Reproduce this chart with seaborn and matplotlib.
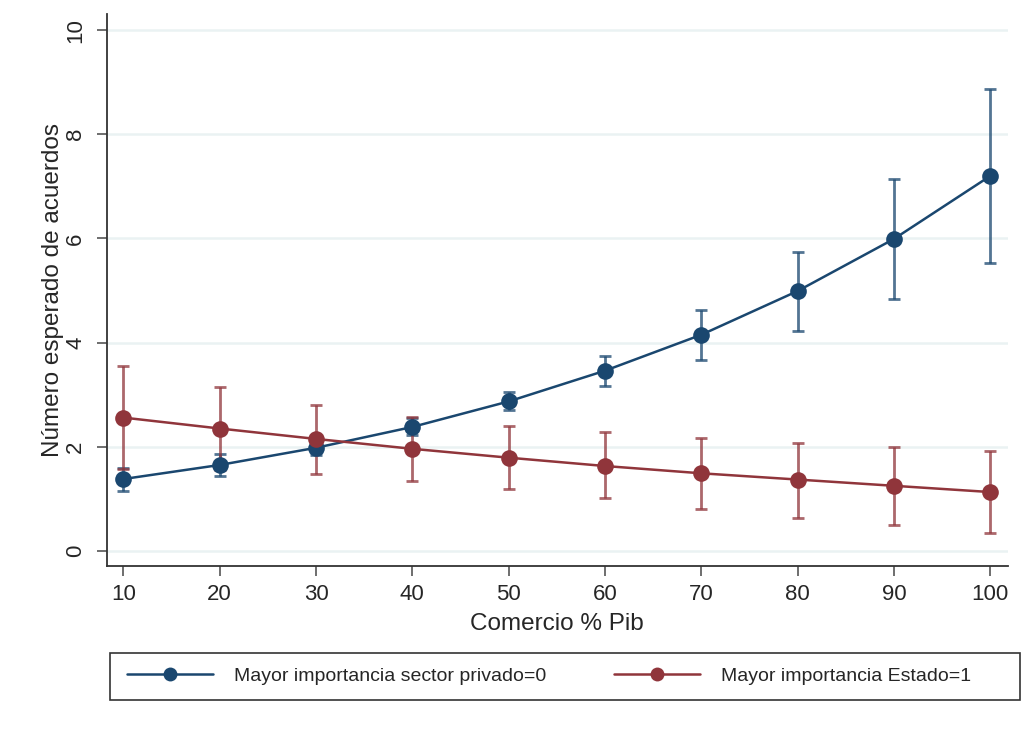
import numpy as np
import pandas as pd
import matplotlib
matplotlib.use("Agg")
import matplotlib.pyplot as plt
from matplotlib.patches import Rectangle
import seaborn as sns

sns.set_style("white")
plt.rcParams['font.family'] = ['Liberation Sans', 'DejaVu Sans']

# Data
comercio = [10, 20, 30, 40, 50, 60, 70, 80, 90, 100]

privado = [1.38, 1.65, 1.98, 2.38, 2.87, 3.46, 4.15, 4.99, 5.99, 7.20]
privado_lo = [1.15, 1.44, 1.84, 2.22, 2.71, 3.17, 3.67, 4.23, 4.83, 5.53]
privado_hi = [1.60, 1.86, 2.12, 2.56, 3.05, 3.74, 4.63, 5.74, 7.14, 8.87]

estado = [2.56, 2.35, 2.15, 1.96, 1.79, 1.63, 1.49, 1.37, 1.25, 1.13]
estado_lo = [1.58, 1.56, 1.47, 1.35, 1.19, 1.01, 0.81, 0.64, 0.49, 0.34]
estado_hi = [3.56, 3.14, 2.81, 2.57, 2.40, 2.28, 2.17, 2.08, 1.99, 1.92]

lab_priv = "Mayor importancia sector privado=0"
lab_est = "Mayor importancia Estado=1"

blue = "#1a476f"
red = "#90353b"

df = pd.DataFrame({
    'Comercio': comercio * 2,
    'Acuerdos': privado + estado,
    'lo': privado_lo + estado_lo,
    'hi': privado_hi + estado_hi,
    'Grupo': [lab_priv] * len(comercio) + [lab_est] * len(comercio),
})

fig = plt.figure(figsize=(10.25, 7.29), dpi=100)
ax = fig.add_axes([0.1044, 0.2236, 0.8786, 0.7572])

ax.set_ylim(-0.29, 10.31)
ax.set_xlim(8.3, 101.8)
ax.set_yticks([0, 2, 4, 6, 8, 10])
ax.set_xticks(comercio)
ax.grid(axis='y', color='#eaf2f3', linewidth=1.8)
ax.set_axisbelow(True)

palette = {lab_priv: blue, lab_est: red}

# error bars first so markers sit on top
for grp, col in palette.items():
    d = df[df['Grupo'] == grp]
    ax.errorbar(d['Comercio'], d['Acuerdos'],
                yerr=[d['Acuerdos'] - d['lo'], d['hi'] - d['Acuerdos']],
                fmt='none', ecolor=col, alpha=0.75, elinewidth=2,
                capsize=4.5, capthick=2, zorder=2)

sns.lineplot(data=df, x='Comercio', y='Acuerdos', hue='Grupo', palette=palette,
             hue_order=[lab_priv, lab_est], marker='o', markersize=12,
             markeredgewidth=0, linewidth=1.8, ax=ax, legend=True, zorder=3)

handles, labels = ax.get_legend_handles_labels()
ax.get_legend().remove()
for h in handles:
    h.set_markersize(10)

for s in ['top', 'right']:
    ax.spines[s].set_visible(False)
for s in ['left', 'bottom']:
    ax.spines[s].set_color('#333333')
    ax.spines[s].set_linewidth(1.3)

ax.tick_params(axis='both', which='major', length=7, width=1.2, color='#555555',
               labelsize=16, direction='out', left=True, bottom=True)
ax.tick_params(axis='x', pad=6)
ax.tick_params(axis='y', pad=8)
for t in ax.get_yticklabels():
    t.set_rotation(90)
    t.set_va('center')
ax.set_ylabel("Número esperado de acuerdos", fontsize=17.5, labelpad=1)
ax.set_xlabel("Comercio % Pib", fontsize=17.5, labelpad=6)

# legend box drawn as a figure patch, entries placed inside it
box = Rectangle((110 / 1025, 1 - 700 / 729), 910 / 1025, 47 / 729,
                transform=fig.transFigure, fill=False, edgecolor='#333333',
                linewidth=1.2)
fig.patches.append(box)

leg = fig.legend(handles, labels, ncol=2, loc='center left',
                 bbox_to_anchor=(127 / 1025, 1 - 676 / 729),
                 frameon=False, fontsize=14, handlelength=4.4,
                 handletextpad=1.1, columnspacing=3.5, borderaxespad=0,
                 borderpad=0)

fig.savefig("out.png", dpi=100)
